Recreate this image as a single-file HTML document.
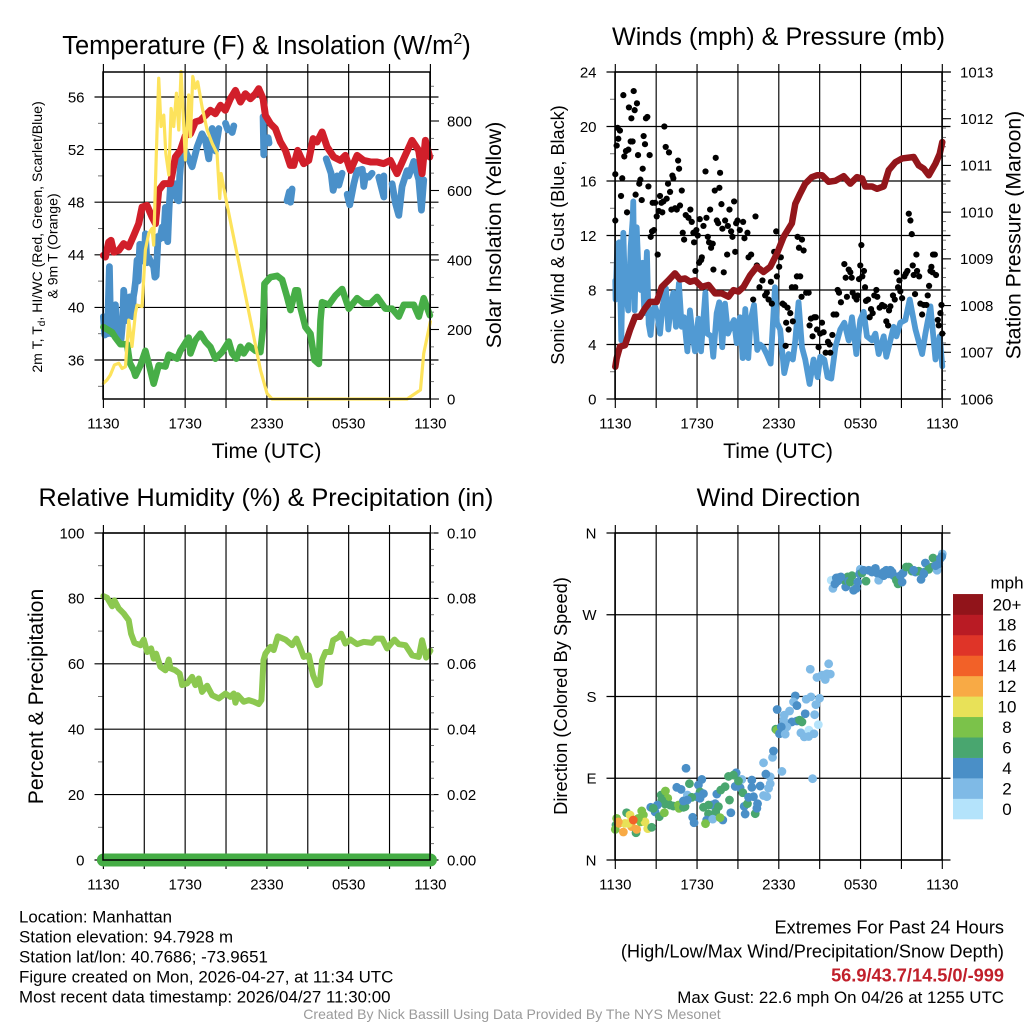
<!DOCTYPE html>
<html lang="en">
<head>
<meta charset="utf-8">
<title>Station Meteogram - Manhattan</title>
<style>
html,body{margin:0;padding:0;background:#fff;width:1024px;height:1024px;overflow:hidden}
svg{display:block}
text{font-family:"Liberation Sans",sans-serif;fill:#000}
.title{font-size:25.2px;text-anchor:middle}
.axt{font-size:21.2px;text-anchor:middle}
.tick{font-size:15px}
.info{font-size:16.9px}
.extreme{font-size:18.2px;text-anchor:end}
</style>
</head>
<body>
<svg id="chart" xmlns="http://www.w3.org/2000/svg" width="1024" height="1024" viewBox="0 0 1024 1024">
<rect x="0" y="0" width="1024" height="1024" fill="#fff"/>
<g id="plots"></g>

<text class="title" x="266.5" y="54" style="font-size:25.5px">Temperature (F) &amp; Insolation (W/m<tspan font-size="16" dy="-10">2</tspan><tspan dy="10">)</tspan></text>
<text class="title" x="778.5" y="45">Winds (mph) &amp; Pressure (mb)</text>
<text class="title" x="266" y="506">Relative Humidity (%) &amp; Precipitation (in)</text>
<text class="title" x="778.5" y="506">Wind Direction</text>

<text class="axt" x="266.5" y="458">Time (UTC)</text>
<text class="axt" x="778" y="458">Time (UTC)</text>

<text font-size="14.1" text-anchor="middle" transform="translate(42,237) rotate(-90)">2m T, T<tspan font-size="10" dy="3">d</tspan><tspan dy="-3">, HI/WC (Red, Green, Scarlet/Blue)</tspan></text>
<text font-size="14.1" text-anchor="middle" transform="translate(57.5,246) rotate(-90)">&amp; 9m T (Orange)</text>
<text class="axt" transform="translate(501,235) rotate(-90)">Solar Insolation (Yellow)</text>
<text font-size="18.1" text-anchor="middle" transform="translate(564,235) rotate(-90)">Sonic Wind &amp; Gust (Blue, Black)</text>
<text class="axt" transform="translate(1020.5,235) rotate(-90)">Station Pressure (Maroon)</text>
<text class="axt" transform="translate(43,696.5) rotate(-90)">Percent &amp; Precipitation</text>
<text font-size="18.3" text-anchor="middle" transform="translate(567,696) rotate(-90)">Direction (Colored By Speed)</text>

<text class="info" x="19" y="922.5">Location: Manhattan</text>
<text class="info" x="19" y="942.5">Station elevation: 94.7928 m</text>
<text class="info" x="19" y="962.5">Station lat/lon: 40.7686; -73.9651</text>
<text class="info" x="19" y="982.5">Figure created on Mon, 2026-04-27, at 11:34 UTC</text>
<text class="info" x="19" y="1002.5">Most recent data timestamp: 2026/04/27 11:30:00</text>

<text class="extreme" x="1004" y="933.5">Extremes For Past 24 Hours</text>
<text class="extreme" x="1004" y="957.5">(High/Low/Max Wind/Precipitation/Snow Depth)</text>
<text class="extreme" x="1004" y="981.5" font-weight="bold" style="fill:#c1202b">56.9/43.7/14.5/0/-999</text>
<text class="info" x="1004" y="1003" text-anchor="end">Max Gust: 22.6 mph On 04/26 at 1255 UTC</text>
<text x="512" y="1019" font-size="14.05" text-anchor="middle" style="fill:#9a9a9a">Created By Nick Bassill Using Data Provided By The NYS Mesonet</text>

<text x="1007" y="588.5" font-size="17" text-anchor="middle">mph</text>
</svg>

<script>
/* ---------- shared axis data ---------- */
const timeTicks = [0,3,6,9,12,15,18,21,24];
const timeLabels = ['1130','1730','2330','0530','1130'];

/* ---------- temperature panel ---------- */
const tempTicks = [36,40,44,48,52,56];
const insolTicks = [0,200,400,600,800];

const airTempTime = [0,.15,.39,.56,.76,1.13,1.49,1.86,2.23,2.59,2.84,3.2,3.57,3.82,4.06,4.43,4.92,5.28,5.65,6.02,6.39,6.75,7.12,7.49,7.85,8.22,8.59,8.95,9.32,9.69,10.06,10.42,10.79,11.16,11.4,11.72,11.89,12.26,12.62,12.99,13.36,13.72,13.97,14.26,14.7,15.07,15.39,15.68,16.05,16.42,16.9,17.39,17.76,18.13,18.62,19.1,19.6,20.09,20.57,21.06,21.55,22.04,22.65,23.14,23.39,23.63,23.95];
const airTempValues = [43.96,43.83,44.97,45.1,44.2,44.34,44.85,44.6,45.48,46.37,47.63,47.76,46.87,46.37,48.9,49.41,49.41,51.44,51.94,53.08,53.2,54.1,54.23,54.6,54.99,54.73,55.37,54.99,55.87,56.5,55.62,56.25,55.87,56.25,56.63,55.87,54.6,53.97,53.6,52.58,51.94,50.8,50.8,51.94,50.93,51.18,52.83,52.58,53.34,52.2,51.44,51.18,51.56,50.42,51.56,51.18,51.06,51.06,50.93,51.18,50.17,51.31,52.7,51.94,50.17,52.7,51.44];

const chillTime = [0,.1,.2,.3,.38,.44,.5,.56,.62,.71,.8,.88,.96,1.05,1.15,1.3,1.42,1.49,1.6,1.69,1.8,1.93,2.05,2.13,2.2,2.28,2.36,2.47,2.55,2.67,2.8,2.91,3,3.08,3.2,3.33,3.5,3.69,3.78,3.87,3.95,4.01,4.15,4.31,4.42,4.55,4.65,4.72,4.82,4.92,5.1,5.29,5.4,5.53,5.6,5.7,6.02,6.51,6.88,7.24,7.49,7.73,7.98,8.22,8.47,8.6,8.96,9.13,9.3,9.45,9.57,10,11.72,11.77,11.9,12.09,12.16,13,13.48,13.65,13.73,13.85,15,16.35,16.71,16.86,17.15,17.28,17.52,17.7,17.89,18.08,18.38,18.62,19,19.11,19.23,19.35,19.47,19.72,20,20.21,20.58,20.58,20.8,21.19,21.44,21.68,21.92,22.29,22.41,22.78,23.15,23.34,23.51];
const chillValues = [39.3,37.9,38.5,38,41,43.1,40,38,39.5,39.8,38.5,40.2,38.8,38.3,37.8,37.6,39,41.3,40,39,40.6,40.8,39.8,39.3,40.8,41.3,42,43.6,42,44.8,44,44.8,43.5,45.6,43.4,43.8,43.4,43.1,42.3,42.4,44,45.4,45.2,46.1,45.3,47.6,45.8,45,47.5,49.2,48.5,49.4,48.2,48.1,50,51.2,51.9,50.7,52.2,53.2,52.7,51.3,53.6,51.9,53.6,null,54,53.5,null,53.3,53.8,null,54.5,51.6,null,52.9,52.5,null,48.1,48.8,48,49,null,51.3,50.2,48.9,50,49.3,50.2,null,48.6,47.8,49.4,50.4,50.5,49.2,50,null,49.9,50.2,null,49.9,48.4,50,null,49.4,47.9,47,49.2,50.4,50,51.1,49.7,47.4,49.7];

const dewTime = [0,.64,.88,1.25,1.74,1.93,2.23,2.35,2.72,3.08,3.33,3.69,4.06,4.55,4.8,5.41,5.65,6.26,6.39,6.75,7.12,7.49,7.85,8.22,8.71,9.2,9.45,9.76,10.06,10.3,10.67,11.16,11.52,11.72,11.82,12.26,12.75,13.12,13.48,13.73,14.09,14.27,14.46,14.83,15.2,15.49,15.81,15.93,16.05,16.54,17.03,17.52,18.01,18.62,19.11,19.6,20.09,20.7,21.19,21.68,22.05,22.78,23.15,23.51,23.96];
const dewValues = [38.5,38.1,37.7,37.2,37.2,35.8,35.2,34.8,35.6,36.7,35.7,34.2,35.6,35.5,36.4,36.1,36.7,37.7,36.5,37.5,38,37.4,37,36.1,36.6,37.4,36.5,36.1,37,36.5,37.1,36.7,36.6,38.5,41.8,42.3,42.4,42.1,40.8,39.8,41.3,41.3,40,38.5,38,36,35.7,39,40.4,40.2,40.9,41.4,39.9,40.7,40.3,40.3,40.8,39.9,39.9,39.3,40.2,40.2,39.3,40.7,39.4];

const insolTime = [0,.27,.51,.81,1.13,1.37,1.62,1.86,2.1,2.35,2.47,2.84,3.08,3.33,3.57,3.69,3.87,4.06,4.23,4.43,4.58,4.8,4.97,5.16,5.36,5.53,5.7,6.02,6.26,6.39,6.56,6.75,6.92,7.24,7.61,7.98,8.34,8.54,8.64,8.96,9.45,10.3,11.04,11.53,12.01,12.38,22.29,23.27,23.51,24];
const insolValues = [45,55,69,98,103,88,93,227,151,247,270,266,429,477,491,443,688,923,784,817,707,645,836,784,880,774,942,688,875,755,928,894,913,841,774,736,707,577,649,582,486,323,179,83,16,0,0,26,131,223];

/* ---------- wind panel ---------- */
const windTicks = [0,4,8,12,16,20,24];
const pressureTicks = [1006,1007,1008,1009,1010,1011,1012,1013];

const pressureTime = [0,.1,.34,.71,1.08,1.45,1.81,2.18,2.55,3.04,3.41,3.9,4.38,4.75,5.12,5.49,5.86,6.35,6.84,7.33,7.82,8.31,8.67,9.04,9.41,9.9,10.39,10.88,11.37,11.86,12.35,12.96,13.21,13.57,13.94,14.43,14.8,15.17,15.66,16.15,16.76,17.25,17.74,18.11,18.35,18.84,19.21,19.7,20.07,20.56,21.05,21.9,22.27,22.64,23.01,23.5,23.81,24];
const pressureValues = [1006.69,1006.87,1007.12,1007.15,1007.48,1007.76,1007.76,1007.94,1008.08,1008.08,1008.4,1008.54,1008.69,1008.56,1008.58,1008.51,1008.54,1008.4,1008.44,1008.26,1008.26,1008.19,1008.33,1008.3,1008.4,1008.65,1008.83,1008.72,1008.83,1009.11,1009.47,1009.76,1010.18,1010.4,1010.61,1010.75,1010.79,1010.79,1010.65,1010.67,1010.77,1010.61,1010.75,1010.72,1010.55,1010.55,1010.5,1010.55,1010.9,1011.07,1011.15,1011.18,1011,1010.93,1010.79,1011.04,1011.25,1011.5];

const sonicTime = [0,.02,.15,.29,.44,.59,.69,.83,.95,1.13,1.27,1.32,1.42,1.57,1.71,1.86,2,2.13,2.32,2.45,2.59,2.74,2.91,3.08,3.28,3.47,3.72,3.89,4.11,4.26,4.45,4.67,4.87,5.04,5.29,5.48,5.68,5.85,6.09,6.29,6.61,6.75,7.05,7.19,7.44,7.63,7.85,8.05,8.27,8.47,8.71,8.91,9.15,9.35,9.54,9.76,9.93,10.18,10.42,10.62,10.86,11.11,11.4,11.72,11.86,12.1,12.4,12.72,13.03,13.21,13.45,13.7,13.94,14.26,14.55,14.85,15.04,15.34,15.58,15.85,16.15,16.51,16.81,17.13,17.37,17.69,17.98,18.23,18.47,18.84,19.09,19.33,19.7,19.89,20.14,20.43,20.63,20.92,21.29,21.61,22.03,22.52,22.76,23.13,23.5,23.81,24];
const sonicValues = [8.7,7.3,11.4,11.5,4.3,12.2,8.7,7.5,6.5,11.2,13.1,14.5,6.5,12.6,9.2,8,10,6.3,10.8,5.5,4.7,6.5,6.8,6.3,4.8,6.8,8.1,5.1,7.1,7.8,5.3,8.5,5.3,6,3.5,6.5,4.6,3.5,5.9,3.5,7.8,4.8,4.6,3.1,6.3,7.1,3.8,7,4.8,5.3,5.8,4.1,6,3,6.6,3,5.8,6.9,3.6,4,3.8,3.3,2.6,8.2,5.6,5.1,1.9,3.3,2.9,4.3,7.1,3.8,2.9,1.1,2.9,1.6,3.1,2.9,1.6,1.5,3.8,5.1,5.6,4.3,6,3.3,5.8,6.4,4.6,4.3,4.8,3.3,4.6,3.1,4.1,5.3,4.6,5.6,5.8,7.3,5.1,3.3,4.8,6.8,2.9,4.6,2.4];

const gustTime = [0,0,.1,.17,.22,.34,.42,.51,.59,.66,.78,.86,.96,1,1.13,1.18,1.27,1.35,1.42,1.49,1.59,1.67,1.76,1.84,1.94,2.01,2.08,2.18,2.25,2.35,2.43,2.52,2.6,2.7,2.74,2.84,2.92,3.04,3.11,3.19,3.28,3.38,3.45,3.53,3.6,3.7,3.77,3.87,3.94,4.02,4.12,4.19,4.26,4.39,4.51,4.61,4.68,4.75,4.88,4.95,5.05,5.17,5.37,5.51,5.61,5.73,5.78,5.88,5.95,6.05,6.15,6.2,6.3,6.35,6.47,6.62,6.69,6.79,6.88,6.96,7.03,7.15,7.2,7.3,7.37,7.45,7.55,7.64,7.69,7.79,7.86,7.96,8.06,8.21,8.26,8.38,8.5,8.6,8.72,8.8,8.87,8.97,9.14,9.38,9.48,9.7,9.78,9.97,10.12,10.29,10.39,10.58,10.8,11,11.12,11.25,11.42,11.49,11.66,11.81,11.86,12.03,12.15,12.28,12.4,12.5,12.54,12.64,12.72,12.84,12.96,13.03,13.21,13.33,13.38,13.48,13.57,13.7,13.82,13.67,14.01,14.19,14.26,14.36,14.48,14.6,14.72,14.8,14.92,15.04,15.17,15.29,15.44,15.61,15.73,15.78,15.93,16.02,16.22,16.32,16.42,16.56,16.81,16.91,17,17.13,17.25,17.35,17.42,17.57,17.71,17.79,17.89,17.98,18.06,18.13,18.25,18.33,18.4,18.55,18.67,18.77,18.89,19.01,19.16,19.23,19.4,19.58,19.75,19.89,20.02,20.09,20.19,20.38,20.51,20.65,20.75,20.85,20.92,21.05,21.22,21.32,21.44,21.54,21.66,21.76,21.83,21.9,22,22.1,22.15,22.3,22.39,22.52,22.64,22.83,22.93,23.03,23.13,23.2,23.28,23.32,23.45,23.54,23.67,23.74,23.86,23.94,24];
const gustValues = [16.5,13.1,18.6,19.9,19.1,19.7,14.9,16.2,22.3,17.8,18.2,13.7,18.3,21.4,18.9,20.6,18.9,22.6,21.2,15,21.7,17.9,15.8,16.1,14.6,16.9,19.3,18.7,20.6,20.7,15.6,17.9,11.9,12.3,14.4,12.4,14.4,13.4,10.6,13.8,14.9,14.4,13.7,14.5,20,18.5,14.7,15.8,18.1,15.2,13.9,16.4,16.2,14,13.9,17.5,16.9,14.2,15.3,12.2,11.7,13.5,13.3,13.9,13,12.2,11.5,9.4,12.4,12,10,13.2,10.2,10.4,12.7,16.7,13.3,11.9,11.5,13.9,11.1,11.4,9.5,15.3,17.7,13.1,12.9,15.5,16.6,14.3,12.5,9.3,13.1,10.6,12.7,13.9,12.3,11.9,14.5,10.8,12.9,13.1,12.4,13,11.8,12.2,10.4,10.6,7.3,13.4,9.8,8.2,8.7,7.6,7.8,7.3,8.6,7,10.8,12.3,9,9.7,10.4,7,6.9,3.9,5.6,6.7,5.1,6.3,8.2,5.7,8.2,9,11.9,11.1,9,11.7,10.9,7.5,7.8,7.8,5.4,5.9,4.6,6,6,5.1,3.8,4.8,5.6,4.9,3.4,4.2,4,3.4,4.7,6.2,6.2,8,7.8,7.1,9.9,8.9,7.5,9.5,9.3,8.9,7.8,7.5,7.3,7.6,8.8,9.8,11.3,9,9.4,8.2,7.2,7.3,6,6.6,6.3,7.6,8,7.5,6.7,6.9,6.8,5.7,5.4,6.5,6.8,7.6,7.3,9.3,8.2,8.7,7.9,7.4,9,9.2,9.4,13.6,13.1,12.1,9.8,9.1,7.7,10.6,9.4,9,7,6.2,6.9,6.9,7.6,8.3,9.4,9.7,9.3,10.6,10.6,9.1,5.8,5.4,6.3,6.9,4.8];

/* ---------- humidity panel ---------- */
const rhTicks = [0,20,40,60,80,100];
const precipTicks = ['0.00','0.02','0.04','0.06','0.08','0.10'];

const rhTime = [0,.27,.64,.81,1.13,1.49,1.86,2.03,2.28,2.72,2.96,3.21,3.5,3.69,3.87,4.18,4.55,4.8,4.92,5.29,5.6,5.78,6.14,6.51,6.75,7,7.24,7.61,7.98,8.47,8.96,9.32,9.57,9.69,9.86,10.3,10.67,11.04,11.4,11.6,11.75,11.89,12.26,12.5,12.8,13.36,13.85,14.17,14.46,14.7,15.07,15.39,15.69,15.88,16.05,16.3,16.66,16.86,17.28,17.45,17.76,18.13,18.62,19.11,19.72,19.97,20.46,20.82,21.36,21.68,22.17,22.66,23.15,23.39,23.69,24];
const rhValues = [80.7,80.2,77.6,79.4,76.9,75.4,73.3,69.2,66.4,65.7,67.4,63.6,64.7,61.6,63.1,59.1,58,61.3,58.6,58,57,53.5,54,56,53.5,55.5,51.4,53.3,50.4,49.4,50.9,49.9,50.9,48.1,50.4,48.4,48.9,48.4,47.7,48.9,61.1,63.1,65.2,64.2,68.4,67.4,65.7,67.7,64.7,62.1,62.6,56.5,53.5,54,61.1,63.6,63.6,67.2,68.2,69.2,66.2,67.4,66,66.7,66.4,67.7,67.7,64.7,67.4,66,65.7,62.6,62.1,67.2,61.9,64];
const precipTime = [0,24];
const precipValues = [0,0];

/* ---------- direction panel ---------- */
const dirTicks = [0,90,180,270,360];
const dirLabels = ['N','E','S','W','N'];
const speedBins = ['0','2','4','6','8','10','12','14','16','18','20+'];
const speedColors = ['#b4e3fb','#7fbae6','#4a8fc7','#49a66f','#7bc24a','#e8e158','#f8aa45','#f26128','#df3428','#b91b24','#91141a'];

const dirTime = [.83,.1,.05,0,.27,.59,.71,1.08,1.2,1.52,1.57,1.86,1.94,2.06,2.18,2.38,2.67,1.69,.22,.96,1.32,3.36,3.68,3.85,3.41,3.65,4.02,4.26,4.63,4.68,5,5.12,3.09,2.6,2.92,3.23,3.6,2.79,5.19,6.35,6.1,5.44,4.51,4.83,5.29,6.22,6.47,5.98,6.22,5.61,5.29,5,7.45,7.74,8.06,8.38,7.33,7.08,7.57,6.47,6.84,7.37,6.84,8.48,5.68,5.78,6.71,6.62,7.15,7.89,7.69,8.8,9.16,9.29,8.87,8.31,8.67,9.04,9.36,9.46,9.53,9.7,9.78,10.02,10.02,10.14,10.27,10.39,10.44,10.63,10.88,11.12,11.25,11.37,11.37,11.05,10.88,11.54,11.61,12.23,14.48,14.31,15.66,14.8,15.17,15.41,15.53,15.78,15.41,13.21,13.08,14.36,14.01,14.99,14.72,13.33,11.88,12.4,12.79,13.94,14.63,12.96,13.33,13.52,13.7,12.35,12.59,14.9,11.78,11.86,12.18,12.05,12.47,13.62,14.21,13.87,14.19,14.58,15.85,15.97,16.12,16.22,16.42,16.61,16.91,16.83,17.05,17.13,17.25,17.37,17.49,17.69,17.79,17.98,17.93,18.11,18.4,18.6,18.84,19.09,19.33,19.21,19.5,19.7,19.89,20.07,20.31,20.43,20.63,20.75,21.05,21.12,21.36,21.54,21.78,22.03,22.27,22.44,22.76,22.69,23,23.25,23.32,23.62,23.74,23.86,24,23.96,16.32,16.56,18.23,18.96,19.7,20.19,20.92,21.9,22.64,23.5];
const dirDegrees = [52,45.8,38.5,33.7,40.3,30.8,40.3,49.5,36.7,30,33.7,42,54,49.5,42,34.5,36,45.8,42,40.3,44,71.5,76,68,66,61.6,60.5,59.4,60.5,56.8,58,58.7,60.5,58,53,47.7,52,56.8,101,88.7,82.5,84,80,77.7,71.5,75,73,69.7,68,69,66,65,72.6,77,80.7,66,62,60.5,58.7,58,60.5,53,50.6,52,47,41,44,40,45,44,46.6,81,79.6,88.7,96,92,93.5,87,74,59,50.6,62,69,88,80,69.7,51,57,62,81.4,71,69.7,79,84,91.6,94.6,107,113,120,97.5,89.5,210,216,201,203.5,201.6,205,204.6,198.7,180.7,174,179.6,177,178,171,170,165.7,159.5,164,161,160,152,153,154,152,154,146.6,149,144,143,146.6,139,138.6,140,143,135.6,136,139,308,299,304,310.5,311,309,300.6,308,311.6,307,306,313,297,299,306,320,315,316,307,319,317,321,308,316,315,313,319,315,317,313,308,304,306,316,322.6,322.6,318,317,318,309,327,317,320,322.6,332.5,319,326,332,337,334,307,311.6,319,319,317,319,313,319,315,324];
const dirSpeeds = [6,8,6,8,12,12,10,10,12,6,12,8,8,8,10,10,6,8,12,10,14,6,8,8,6,6,6,6,8,8,6,6,4,4,4,6,8,6,4,4,4,6,4,4,2,6,4,4,4,6,4,4,4,6,6,6,4,4,6,6,6,6,6,4,4,4,4,8,2,4,8,4,4,2,4,6,6,6,6,4,4,6,4,4,4,4,6,4,4,4,2,2,2,2,2,4,2,2,4,2,2,2,2,2,2,2,2,2,2,4,2,2,2,2,2,4,4,2,2,4,2,4,4,6,6,2,2,0,6,8,4,4,2,2,0,2,2,2,0,2,4,4,4,4,4,6,6,4,6,6,4,4,4,2,4,6,6,4,4,4,2,4,4,4,4,4,4,4,6,6,4,4,6,6,6,4,6,4,4,4,6,6,6,2,4,4,2,4,4,4,4,4,4,4,4,4,4,4];

/* ---------- drawing helpers ---------- */
const NS = 'http://www.w3.org/2000/svg';
const root = document.getElementById('plots');

function makeEl(tag, parent, name) {
  const el = document.createElementNS(NS, tag);
  
  
  parent.appendChild(el);
  return el;
}
function line(parent, name, x1, y1, x2, y2, color, width) {
  const el = makeEl('line', parent, name);
  el.setAttribute('x1', x1);
  el.setAttribute('y1', y1);
  el.setAttribute('x2', x2);
  el.setAttribute('y2', y2);
  el.setAttribute('stroke', color);
  el.setAttribute('stroke-width', width);
  return el;
}
function label(parent, name, x, y, str, anchor, size) {
  const el = makeEl('text', parent, name);
  el.setAttribute('x', x);
  el.setAttribute('y', y);
  el.setAttribute('class', 'tick');
  el.setAttribute('text-anchor', anchor);
  if (size) el.style.fontSize = size + 'px';
  el.textContent = str;
  return el;
}
function series(parent, name, times, values, xs, ys, color, width) {
  let run = [];
  let idx = 0;
  const flush = () => {
    if (run.length) {
      const el = makeEl('polyline', parent, name + (idx ? '-segment-' + idx : ''));
      el.setAttribute('points', run.join(' '));
      el.setAttribute('fill', 'none');
      el.setAttribute('stroke', color);
      el.setAttribute('stroke-width', width);
      el.setAttribute('stroke-linecap', 'round');
      el.setAttribute('stroke-linejoin', 'round');
      idx++;
    }
    run = [];
  };
  times.forEach((t, i) => {
    if (values[i] === null) { flush(); return; }
    run.push(xs(t).toFixed(2) + ',' + ys(values[i]).toFixed(2));
  });
  flush();
}
function linear(d0, d1, r0, r1) {
  return v => r0 + (v - d0) * (r1 - r0) / (d1 - d0);
}

/* panel frame: grid (behind data) and axes (over data) */
function panelGrid(p, name, leftVals, leftY, leftText) {
  const g = makeEl('g', root, name + '-grid');
  timeTicks.forEach(h => {
    line(g, name + '-vertical-gridline', p.xs(h), p.top - 8, p.xs(h), p.bottom + 9, '#000', 1.15);
  });
  leftVals.forEach((v, i) => {
    const y = leftY(v);
    line(g, name + '-horizontal-gridline', p.left - 8.5, y, p.right + 8.5, y, '#000', 1.15);
    label(g, name + '-left-tick-label', p.left - 18.5, y + 5.3, leftText ? leftText[i] : String(v), 'end');
  });
  timeLabels.forEach((s, i) => {
    label(g, name + '-time-tick-label', p.xs(timeTicks[i * 2]), p.bottom + 29.3, s, 'middle');
  });
}
function panelFrame(p, name) {
  const r = makeEl('rect', root, name + '-frame');
  r.setAttribute('x', p.left);
  r.setAttribute('y', p.top);
  r.setAttribute('width', p.right - p.left);
  r.setAttribute('height', p.bottom - p.top);
  r.setAttribute('fill', 'none');
  r.setAttribute('stroke', '#000');
  r.setAttribute('stroke-width', 1.5);
}
function minorTicks(p, name, x, len, from, to, step, ys) {
  const g = makeEl('g', root, name);
  for (let v = from; v <= to + 1e-6; v += step) {
    line(g, name + '-mark', x, ys(v), x + len, ys(v), '#666', 0.9);
  }
}

/* ---------- panel 1: temperature & insolation ---------- */
const p1 = {left:103, right:430, top:72, bottom:399};
p1.xs = linear(0, 24, p1.left + .4, p1.right + .4);
const tempY = linear(36, 56, 360, 97);
const insolY = linear(0, 800, 399, 121);
panelGrid(p1, 'temperature-panel', tempTicks, tempY);
minorTicks(p1, 'temperature-left-minor-tick', p1.left - 5, 5, 34, 54, 4, tempY);
minorTicks(p1, 'insolation-right-minor-tick', p1.right, 4, 0, 900, 50, insolY);
insolTicks.forEach(v => {
  line(root, 'insolation-right-tick', p1.right, insolY(v), p1.right + 9, insolY(v), '#000', 1.1);
  label(root, 'insolation-tick-label', p1.right + 17, insolY(v) + 5.3, String(v), 'start');
});
series(root, 'wind-chill-line', chillTime, chillValues, p1.xs, tempY, '#4a90c9', 6.8);
series(root, 'dew-point-line', dewTime, dewValues, p1.xs, tempY, '#47ae47', 6.6);
series(root, 'air-temperature-line', airTempTime, airTempValues, p1.xs, tempY, '#d11f2a', 7);
series(root, 'solar-insolation-line', insolTime, insolValues, p1.xs, insolY, '#fde35c', 3.2);
panelFrame(p1, 'temperature-panel');

/* ---------- panel 2: winds & pressure ---------- */
const p2 = {left:615, right:942, top:72, bottom:399};
p2.xs = linear(0, 24, p2.left + .3, p2.right + .3);
const windY = linear(0, 24, 399, 72);
const pressY = linear(1006, 1013, 399, 72);
panelGrid(p2, 'wind-panel', windTicks, windY);
minorTicks(p2, 'wind-left-minor-tick', p2.left - 5, 5, 2, 22, 4, windY);
minorTicks(p2, 'pressure-right-minor-tick', p2.right, 4, 1006, 1013, 0.2, pressY);
pressureTicks.forEach(v => {
  line(root, 'pressure-right-tick', p2.right, pressY(v), p2.right + 9, pressY(v), '#000', 1.1);
  label(root, 'pressure-tick-label', p2.right + 18, pressY(v) + 5.3, String(v), 'start');
});
series(root, 'sonic-wind-line', sonicTime, sonicValues, p2.xs, windY, '#519ad3', 5.8);
gustTime.forEach((t, i) => {
  const c = makeEl('circle', root, 'gust-point');
  c.setAttribute('cx', p2.xs(t).toFixed(2));
  c.setAttribute('cy', windY(gustValues[i]).toFixed(2));
  c.setAttribute('r', 3.1);
  c.setAttribute('fill', '#000');
});
series(root, 'station-pressure-line', pressureTime, pressureValues, p2.xs, pressY, '#93161b', 6.5);
panelFrame(p2, 'wind-panel');

/* ---------- panel 3: humidity & precipitation ---------- */
const p3 = {left:103, right:430, top:533, bottom:860};
p3.xs = linear(0, 24, p3.left + .4, p3.right + .4);
const rhY = linear(0, 100, 860, 533);
panelGrid(p3, 'humidity-panel', rhTicks, rhY);
minorTicks(p3, 'humidity-left-minor-tick', p3.left - 5, 5, 10, 90, 20, rhY);
minorTicks(p3, 'precipitation-right-minor-tick', p3.right, 4, 0, 100, 5, rhY);
precipTicks.forEach((s, i) => {
  label(root, 'precipitation-tick-label', p3.right + 17, rhY(rhTicks[i]) + 5.3, s, 'start');
});
series(root, 'precipitation-line', precipTime, precipValues, p3.xs, rhY, '#45ad45', 13);
series(root, 'relative-humidity-line', rhTime, rhValues, p3.xs, rhY, '#8cc850', 6);
panelFrame(p3, 'humidity-panel');

/* ---------- panel 4: wind direction ---------- */
const p4 = {left:615, right:942, top:533, bottom:860};
p4.xs = linear(0, 24, p4.left + .3, p4.right + .3);
const dirY = linear(0, 360, 860, 533);
panelGrid(p4, 'direction-panel', dirTicks, dirY, dirLabels);
dirTime.forEach((t, i) => {
  const c = makeEl('circle', root, 'direction-point');
  c.setAttribute('cx', p4.xs(t).toFixed(2));
  c.setAttribute('cy', dirY(dirDegrees[i]).toFixed(2));
  c.setAttribute('r', 4.4);
  c.setAttribute('fill', speedColors[Math.min(speedColors.length - 1, Math.round(dirSpeeds[i] / 2))]);
});
panelFrame(p4, 'direction-panel');

/* ---------- colorbar ---------- */
const barBottom = 819;
const barStep = 20.45;
speedBins.forEach((s, i) => {
  const r = makeEl('rect', root, 'colorbar-bin-' + s.replace('+', '-plus'));
  r.setAttribute('x', 953);
  r.setAttribute('y', (barBottom - (i + 1) * barStep).toFixed(2));
  r.setAttribute('width', 30);
  r.setAttribute('height', barStep + .3);
  r.setAttribute('fill', speedColors[i]);
  label(root, 'colorbar-label', 1007, barBottom - (i + .5) * barStep + 6, s, 'middle', 17);
});
</script>
</body>
</html>
